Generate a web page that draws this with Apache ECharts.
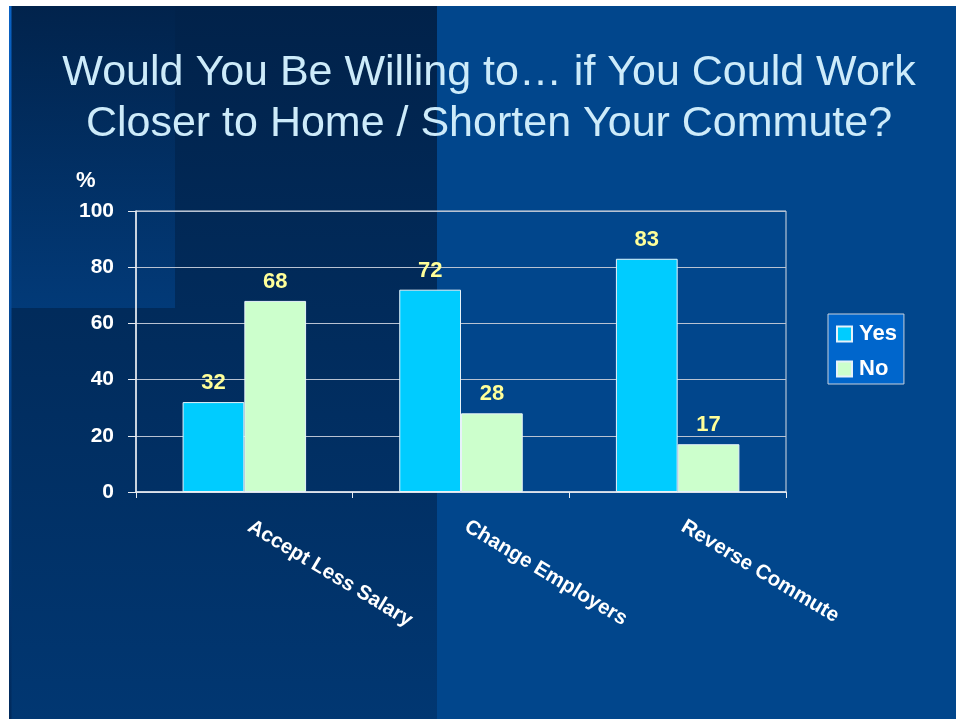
<!DOCTYPE html>
<html>
<head>
<meta charset="utf-8">
<script src="https://cdn.jsdelivr.net/npm/echarts@6/dist/echarts.min.js"></script>
<style>
html,body{margin:0;padding:0;background:#ffffff;}
#chart{width:956px;height:719px;}
</style>
</head>
<body>
<div id="chart"></div>
<script>
const categories = ['Accept Less Salary', 'Change Employers', 'Reverse Commute'];
const yesValues = [32, 72, 83];
const noValues = [68, 28, 17];
const seriesNames = ['Yes', 'No'];
const titleLines = ['Would You Be Willing to\u2026 if You Could Work', 'Closer to Home / Shorten Your Commute?'];
const axisUnit = '%';

const chart = echarts.init(document.getElementById('chart'), null, {renderer: 'canvas'});
const FONT = '"Liberation Sans", Arial, sans-serif';

const option = {
  animation: false,
  backgroundColor: '#ffffff',
  graphic: [
    {type: 'rect', z: -10, shape: {x: 9, y: 6, width: 947, height: 713}, style: {fill: '#01468C'}, silent: true},
    {type: 'rect', z: -9, shape: {x: 11, y: 6, width: 426, height: 713},
      style: {fill: new echarts.graphic.LinearGradient(0, 0, 0, 1, [{offset: 0, color: '#01224A'}, {offset: 1, color: '#013772'}])}, silent: true},
    {type: 'rect', z: -8, shape: {x: 11, y: 6, width: 164, height: 302},
      style: {fill: new echarts.graphic.LinearGradient(0, 0, 0, 1, [{offset: 0, color: '#01234C'}, {offset: 1, color: '#023A78'}])}, silent: true},
    {type: 'rect', z: -8, shape: {x: 9, y: 6, width: 2.5, height: 713},
      style: {fill: new echarts.graphic.LinearGradient(0, 0, 0, 1, [{offset: 0, color: '#0A62C4'}, {offset: 1, color: '#012A5C'}])}, silent: true},
    {type: 'text', z: 5, left: 76, top: 170,
      style: {text: axisUnit, fill: '#ffffff', font: 'bold 22px ' + FONT}}
  ],
  title: {
    text: titleLines.join('\n'),
    left: 489,
    top: 48,
    padding: 0,
    textAlign: 'center',
    textStyle: {
      fontFamily: FONT,
      fontWeight: 'normal',
      fontSize: 43,
      lineHeight: 51,
      color: '#CDEBFA',
      textShadowColor: '#000000',
      textShadowOffsetX: 2,
      textShadowOffsetY: 2,
      textShadowBlur: 0
    }
  },
  legend: {
    orient: 'vertical',
    left: 828,
    top: 314,
    padding: [9, 7, 4, 8],
    backgroundColor: '#0066CC',
    borderColor: '#C8D0DC',
    borderWidth: 1,
    icon: 'rect',
    itemWidth: 15,
    itemHeight: 15,
    itemGap: 13,
    data: seriesNames,
    textStyle: {color: '#ffffff', fontFamily: FONT, fontWeight: 'bold', fontSize: 22, padding: [0, 0, 0, 2]}
  },
  grid: {
    left: 136,
    top: 211,
    width: 650,
    height: 281,
    show: true,
    borderColor: '#D8DCE4',
    borderWidth: 1,
    backgroundColor: 'transparent'
  },
  xAxis: {
    type: 'category',
    data: categories,
    axisLine: {show: true, lineStyle: {color: '#E8ECF2', width: 1.5}},
    axisTick: {show: true, length: 6, lineStyle: {color: '#E8ECF2'}},
    axisLabel: {
      rotate: -31,
      margin: 30,
      padding: [0, 0, 0, 6],
      color: '#ffffff',
      fontFamily: FONT,
      fontWeight: 'bold',
      fontSize: 20.5
    }
  },
  yAxis: {
    type: 'value',
    min: 0,
    max: 100,
    interval: 20,
    axisLine: {show: true, lineStyle: {color: '#E8ECF2', width: 1.5}},
    axisTick: {show: true, length: 8, lineStyle: {color: '#E8ECF2'}},
    splitLine: {show: true, lineStyle: {color: '#B8C2D2', width: 1.2}},
    axisLabel: {
      margin: 22,
      color: '#ffffff',
      fontFamily: FONT,
      fontWeight: 'bold',
      fontSize: 21
    }
  },
  series: [
    {
      name: seriesNames[0],
      type: 'bar',
      data: yesValues,
      barGap: '0%',
      barCategoryGap: '43%',
      itemStyle: {color: '#00CCFF', borderColor: '#E6F2FA', borderWidth: 1},
      label: {show: true, position: 'top', distance: 8, color: '#FFFF99', fontFamily: FONT, fontWeight: 'bold', fontSize: 22}
    },
    {
      name: seriesNames[1],
      type: 'bar',
      data: noValues,
      barGap: '0%',
      barCategoryGap: '43%',
      itemStyle: {color: '#CCFFCC', borderColor: '#E6F2FA', borderWidth: 1},
      label: {show: true, position: 'top', distance: 8, color: '#FFFF99', fontFamily: FONT, fontWeight: 'bold', fontSize: 22}
    }
  ]
};
chart.setOption(option);
</script>
</body>
</html>
